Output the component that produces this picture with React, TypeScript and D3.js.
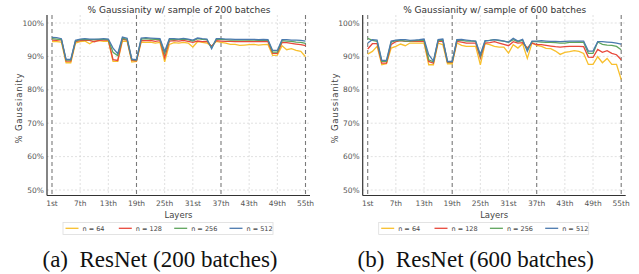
import React from "react";
import * as d3 from "d3";

// layers 1..55
const layers = d3.range(1, 56);
const xTickLayers = [1, 7, 13, 19, 25, 31, 37, 43, 49, 55];
const xTickLabels = ["1st", "7th", "13th", "19th", "25th", "31st", "37th", "43th", "49th", "55th"];
const blockLayers = [1, 19, 37, 55];
const yTicks = [50, 60, 70, 80, 90, 100];
const seriesNames = ["n = 64", "n = 128", "n = 256", "n = 512"];
const seriesColors = ["#f8bf2c", "#e8483b", "#5ea45c", "#4b7aae"];

// 200 batches
const b200n64 = [94.4, 94.4, 94.3, 88.1, 88.1, 94.0, 94.4, 94.6, 93.8, 94.6, 94.7, 94.5, 94.6, 88.5, 88.5, 94.6, 94.5, 88.3, 88.5, 94.3, 94.2, 94.3, 94.0, 94.2, 88.4, 93.6, 94.1, 94.0, 94.2, 94.0, 92.8, 94.4, 94.2, 94.0, 93.0, 94.5, 94.2, 94.0, 93.6, 93.6, 93.3, 93.4, 93.5, 93.6, 93.4, 93.5, 93.6, 90.3, 90.4, 93.2, 92.0, 92.3, 91.8, 91.5, 89.9];
const b200n128 = [94.9, 94.8, 95.0, 88.6, 88.6, 94.4, 94.7, 94.9, 94.8, 94.4, 94.8, 94.9, 94.9, 89.0, 88.8, 95.2, 94.9, 88.8, 88.7, 94.7, 94.7, 94.8, 94.5, 94.7, 89.6, 94.6, 94.7, 94.6, 94.8, 94.5, 94.2, 94.6, 94.4, 94.5, 93.0, 94.7, 94.6, 94.5, 94.5, 94.4, 94.4, 94.4, 94.5, 94.4, 94.4, 94.5, 94.4, 90.9, 90.9, 94.2, 94.1, 93.9, 93.7, 93.5, 93.2];
const b200n256 = [95.3, 95.2, 95.0, 88.9, 88.9, 94.6, 95.0, 95.1, 95.0, 95.0, 95.1, 95.1, 95.0, 91.2, 90.2, 95.4, 95.1, 89.0, 88.9, 95.2, 95.3, 95.2, 95.1, 95.0, 90.8, 95.0, 95.0, 95.1, 95.2, 95.0, 94.6, 95.3, 95.1, 95.0, 92.6, 95.1, 95.1, 95.0, 94.9, 94.9, 94.9, 94.9, 94.9, 94.9, 94.8, 94.8, 94.8, 91.3, 91.3, 94.7, 94.6, 94.5, 94.3, 94.2, 93.9];
const b200n512 = [95.7, 95.6, 95.3, 89.1, 89.1, 94.8, 95.2, 95.3, 95.2, 95.2, 95.2, 95.3, 95.2, 92.5, 90.8, 95.8, 95.4, 89.2, 89.0, 95.5, 95.6, 95.5, 95.4, 95.3, 91.5, 95.3, 95.3, 95.2, 95.4, 95.2, 94.9, 95.5, 95.3, 95.2, 92.3, 95.3, 95.3, 95.2, 95.2, 95.1, 95.1, 95.1, 95.1, 95.1, 95.0, 95.1, 95.0, 91.8, 91.8, 95.0, 95.0, 94.9, 94.9, 94.8, 94.6];

// 600 batches
const b600n64 = [90.7, 91.5, 93.0, 87.5, 87.8, 92.5, 93.0, 93.7, 93.2, 94.0, 94.0, 94.0, 94.0, 87.5, 87.5, 94.0, 93.5, 87.8, 87.8, 94.0, 93.3, 93.0, 93.0, 93.0, 87.5, 93.8, 93.5, 93.0, 92.8, 92.8, 91.0, 93.5, 92.5, 93.8, 89.4, 94.0, 93.3, 93.0, 92.4, 92.3, 91.6, 90.6, 91.2, 91.4, 91.7, 91.5, 90.9, 87.6, 87.6, 89.9, 88.1, 89.4, 87.6, 87.6, 83.1];
const b600n128 = [92.2, 93.8, 93.8, 88.0, 88.0, 93.6, 94.4, 94.7, 94.5, 94.5, 94.6, 94.5, 94.6, 88.5, 88.0, 94.5, 94.6, 88.2, 88.2, 94.5, 94.3, 94.0, 94.0, 94.0, 89.5, 94.0, 94.1, 94.4, 94.0, 93.6, 93.2, 94.4, 94.0, 94.1, 92.5, 94.0, 93.5, 93.5, 93.3, 93.1, 92.9, 92.8, 92.9, 93.0, 93.0, 93.0, 92.9, 89.8, 89.7, 92.1, 91.2, 91.7, 90.9, 90.5, 89.0];
const b600n256 = [95.4, 94.8, 94.5, 88.5, 88.5, 94.3, 94.7, 94.8, 94.6, 94.6, 94.7, 94.8, 94.9, 89.0, 88.4, 94.8, 94.9, 88.4, 88.4, 94.9, 94.8, 94.6, 94.6, 94.5, 90.0, 94.6, 94.8, 95.0, 94.7, 94.6, 94.2, 95.0, 94.4, 94.8, 92.0, 94.4, 94.4, 94.3, 94.2, 94.2, 94.1, 94.0, 94.0, 94.2, 94.2, 94.3, 94.2, 90.9, 90.9, 94.3, 93.6, 93.4, 93.3, 93.0, 92.0];
const b600n512 = [94.0, 95.0, 94.9, 88.8, 88.8, 94.6, 94.9, 95.0, 95.0, 94.8, 94.9, 95.0, 95.2, 90.5, 88.6, 95.0, 95.2, 88.5, 88.5, 95.0, 95.1, 94.9, 94.7, 94.6, 90.6, 94.7, 94.8, 95.0, 94.9, 94.6, 94.3, 95.4, 94.6, 95.1, 91.5, 94.6, 94.6, 94.7, 94.6, 94.5, 94.5, 94.4, 94.5, 94.6, 94.6, 94.6, 94.6, 91.6, 91.6, 94.4, 94.4, 94.3, 94.2, 94.0, 93.7];

const FONT = "DejaVu Sans, sans-serif";

interface PanelProps {
  ox: number;
  title: string;
  caption: string;
  series: number[][];
}

const Panel: React.FC<PanelProps> = ({ ox, title, caption, series }) => {
  const left = ox + 47;
  const right = ox + 310;
  const top = 15;
  const bottom = 195.5;

  const x = d3.scaleLinear().domain([1, 55]).range([ox + 52, ox + 305.5]);
  const y = d3.scaleLinear().domain([50, 100]).range([190, 23]);

  const line = d3
    .line<number>()
    .x((_, i) => x(layers[i]))
    .y((d) => y(d));

  const cx = (left + right) / 2;
  const legX = ox + 63;
  const legEntries = [0, 53.3, 108.7, 164];

  return (
    <g>
      {/* grid */}
      {yTicks.map((t) => (
        <line key={"gy" + t} x1={left} x2={right} y1={y(t)} y2={y(t)} stroke="#d4d4d4" strokeWidth={0.7} strokeDasharray="2,2" />
      ))}
      {xTickLayers
        .filter((l) => !blockLayers.includes(l))
        .map((l) => (
          <line key={"gx" + l} x1={x(l)} x2={x(l)} y1={top} y2={bottom} stroke="#d4d4d4" strokeWidth={0.7} strokeDasharray="2,2" />
        ))}
      {blockLayers.map((l) => (
        <line key={"b" + l} x1={x(l)} x2={x(l)} y1={top} y2={bottom} stroke="#7a7a7a" strokeWidth={1.1} strokeDasharray="4,3" />
      ))}

      {/* series */}
      {series.map((s, i) => (
        <path key={i} d={line(s) || ""} fill="none" stroke={seriesColors[i]} strokeWidth={1.3} />
      ))}

      {/* spines */}
      <line x1={left} x2={left} y1={top} y2={bottom} stroke="#333" strokeWidth={1.2} />
      <line x1={left} x2={right} y1={bottom} y2={bottom} stroke="#333" strokeWidth={1.2} />

      {/* y tick labels */}
      {yTicks.map((t) => (
        <text key={"yl" + t} x={left - 3} y={y(t)} dy="0.35em" textAnchor="end" fontFamily={FONT} fontSize={7.5} fill="#555">
          {t}%
        </text>
      ))}
      {/* x tick labels */}
      {xTickLayers.map((l, i) => (
        <text key={"xl" + l} x={x(l)} y={205.5} textAnchor="middle" fontFamily={FONT} fontSize={7.5} fill="#555">
          {xTickLabels[i]}
        </text>
      ))}

      <text x={cx} y={217.5} textAnchor="middle" fontFamily={FONT} fontSize={8.5} fill="#444">
        Layers
      </text>
      <text
        transform={`translate(${ox + 19},108) rotate(-90)`}
        textAnchor="middle"
        dy="0.35em"
        fontFamily={FONT}
        fontSize={8.5}
        letterSpacing={0.8}
        fill="#444"
      >
        % Gaussianity
      </text>
      <text x={ox + 179} y={12.5} textAnchor="middle" fontFamily={FONT} fontSize={9} fill="#333">
        {title}
      </text>

      {/* legend */}
      <rect x={legX} y={222.5} width={210} height={12} fill="#fff" stroke="#ddd" strokeWidth={0.8} />
      {seriesNames.map((n, i) => (
        <g key={n}>
          <line x1={legX + 2.5 + legEntries[i]} x2={legX + 15.5 + legEntries[i]} y1={228.3} y2={228.3} stroke={seriesColors[i]} strokeWidth={1.3} />
          <text x={legX + 19.5 + legEntries[i]} y={228.3} dy="0.35em" fontFamily={FONT} fontSize={6.5} fill="#444">
            {n}
          </text>
        </g>
      ))}

      {/* caption */}
      <text x={ox + 160} y={267} textAnchor="middle" fontFamily="Liberation Serif, Times New Roman, serif" fontSize={23} fill="#111" style={{ whiteSpace: "pre" }}>
        {caption}
      </text>
    </g>
  );
};

const App: React.FC = () => {
  return (
    <svg width={639} height={274} style={{ position: "absolute", left: 0, top: 0, background: "#fff" }}>
      <Panel
        ox={0}
        title="% Gaussianity w/ sample of 200 batches"
        caption="(a)  ResNet (200 batches)"
        series={[b200n64, b200n128, b200n256, b200n512]}
      />
      <Panel
        ox={315.7}
        title="% Gaussianity w/ sample of 600 batches"
        caption="(b)  ResNet (600 batches)"
        series={[b600n64, b600n128, b600n256, b600n512]}
      />
    </svg>
  );
};

export default App;
